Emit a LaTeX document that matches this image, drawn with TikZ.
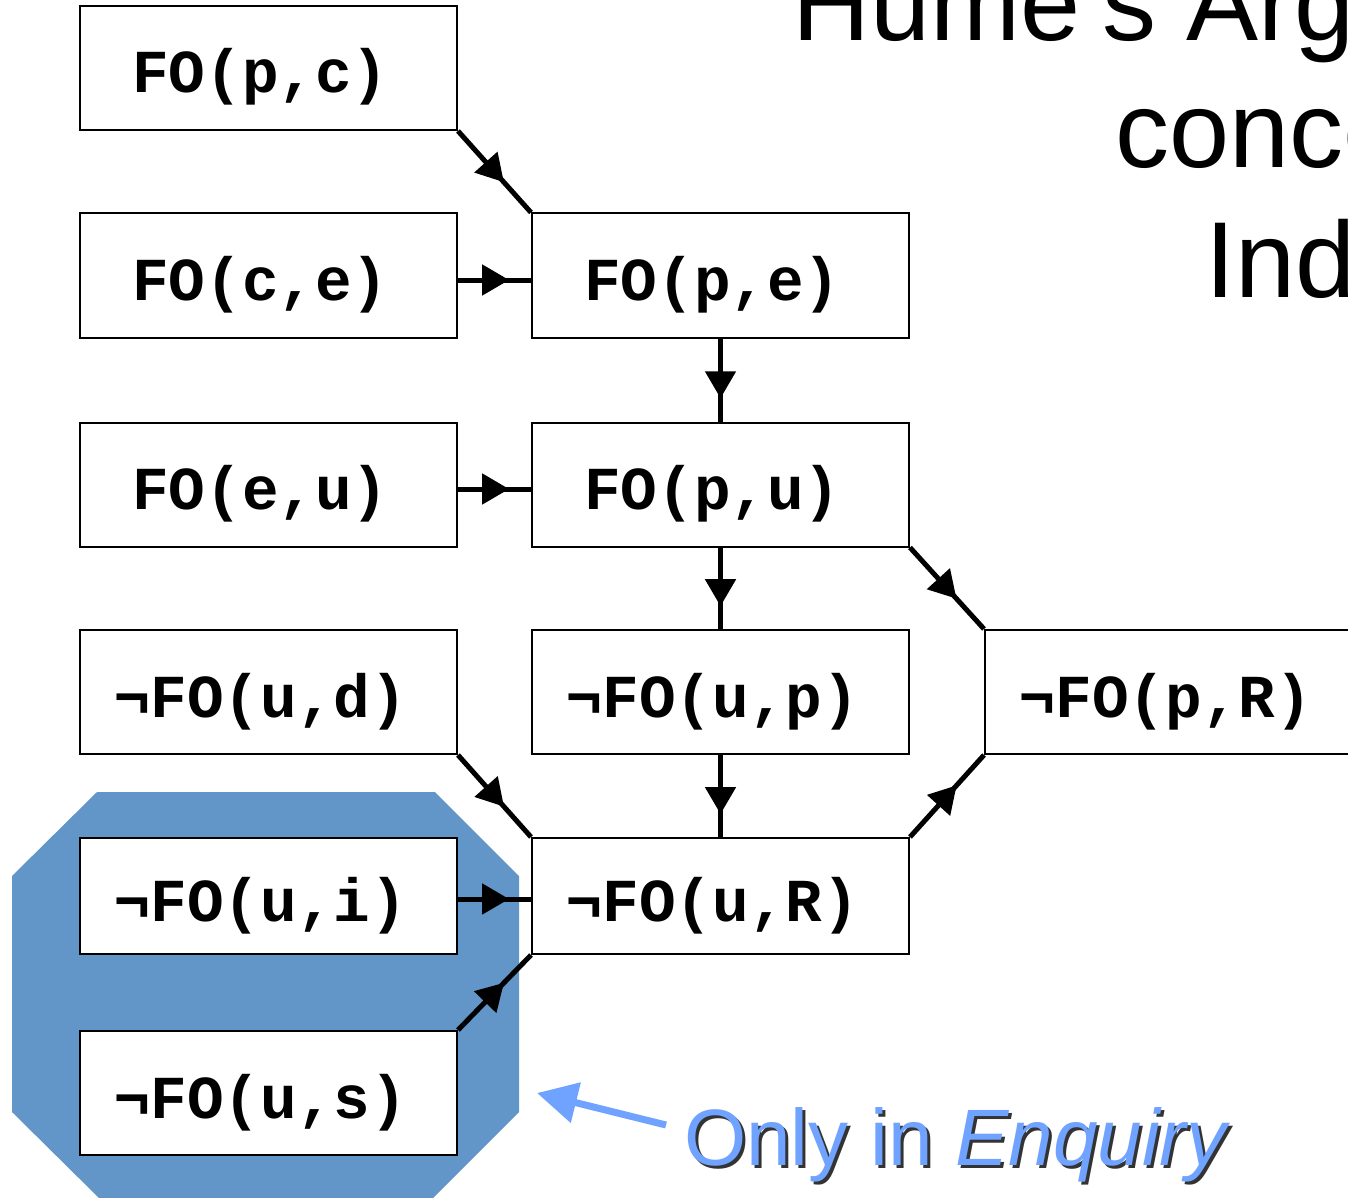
\documentclass[tikz,border=0pt]{standalone}
\usepackage{fontspec}
\setmainfont{Liberation Sans}
\newfontfamily\boxfont{Liberation Mono}
\usetikzlibrary{arrows.meta,decorations.markings}
\definecolor{octblue}{RGB}{98,149,200}
\definecolor{noteblue}{RGB}{112,163,255}
\tikzset{
  fobox/.style={draw=black, line width=2pt, fill=white, rectangle,
    minimum width=377pt, minimum height=124pt, inner sep=0pt,
    text height=52pt, text depth=2pt,
    font=\boxfont\bfseries\fontsize{61pt}{61pt}\selectfont},
  shortbox/.style={fobox, minimum height=116pt},
  conn/.style={line width=5pt, postaction={decorate},
    decoration={markings, mark=at position #1 with {\arrow{Triangle[length=27pt,width=30pt]}}}},
  conn/.default=0.7,
  titletext/.style={anchor=base west, inner sep=0pt, font=\fontsize{108pt}{108pt}\selectfont},
  notetext/.style={anchor=base west, inner sep=0pt, font=\fontsize{80pt}{80pt}\selectfont},
}
\begin{document}
\begin{tikzpicture}[x=1pt,y=-1pt]
\useasboundingbox (0,0) rectangle (1348,1198);
\clip (0,0) rectangle (1348,1198);

% title (cut by the page edge)
\node[titletext] (t1) at (792,41) {Hume's Argument};
\node[titletext] (t2) at (1115,168) {concerning};
\node[titletext] (t3) at (1205,297) {Induction};

% highlighted region
\fill[octblue] (97,792) -- (435,792) -- (519,876) -- (519,1112) -- (433,1198)
  -- (99,1198) -- (12,1112) -- (12,876) -- cycle;

% boxes
\node[fobox] (pc) at (268.5,68) {\hspace*{-16pt}FO(p,c)};
\node[fobox] (ce) at (268.5,275.5) {\hspace*{-16pt}FO(c,e)};
\node[fobox] (eu) at (268.5,484.5) {\hspace*{-16pt}FO(e,u)};
\node[fobox] (ud) at (268.5,692) {\hspace*{-16pt}¬FO(u,d)};
\node[shortbox] (ui) at (268.5,896) {\hspace*{-16pt}¬FO(u,i)};
\node[fobox] (us) at (268.5,1093) {\hspace*{-16pt}¬FO(u,s)};

\node[fobox] (pe) at (720.5,275.5) {\hspace*{-16pt}FO(p,e)};
\node[fobox] (pu) at (720.5,484.5) {\hspace*{-16pt}FO(p,u)};
\node[fobox] (up) at (720.5,692) {\hspace*{-16pt}¬FO(u,p)};
\node[shortbox] (uR) at (720.5,896) {\hspace*{-16pt}¬FO(u,R)};

\node[fobox] (pR) at (1173.5,692) {\hspace*{-16pt}¬FO(p,R)};

% connectors
\draw[conn=0.63] (pc.south east) -- (pe.north west);
\draw[conn] ([yshift=-4.5pt]ce.east) -- ([yshift=-4.5pt]pe.west);
\draw[conn=0.72] (pe.south) -- (pu.north);
\draw[conn] ([yshift=-4.5pt]eu.east) -- ([yshift=-4.5pt]pu.west);
\draw[conn=0.72] (pu.south) -- (up.north);
\draw[conn=0.63] (pu.south east) -- (pR.north west);
\draw[conn=0.63] (ud.south east) -- (uR.north west);
\draw[conn=0.72] (up.south) -- (uR.north);
\draw[conn=0.63] (uR.north east) -- (pR.south west);
\draw[conn] ([yshift=-3pt]ui.east) -- ([yshift=-3pt]uR.west);
\draw[conn=0.63] (us.north east) -- (uR.south west);

% note
\coordinate (notetail) at (666,1125);
\coordinate (notetip) at (537,1093);
\draw[noteblue, line width=7pt, -{Triangle[length=40pt,width=40pt]}] (notetail) -- (notetip);
\node[notetext, text=black, opacity=0.8] (noteshadow) at (687,1168) {Only in \textit{Enquiry}};
\node[notetext, text=noteblue] (note) at (684,1165) {Only in \textit{Enquiry}};
\end{tikzpicture}
\end{document}
